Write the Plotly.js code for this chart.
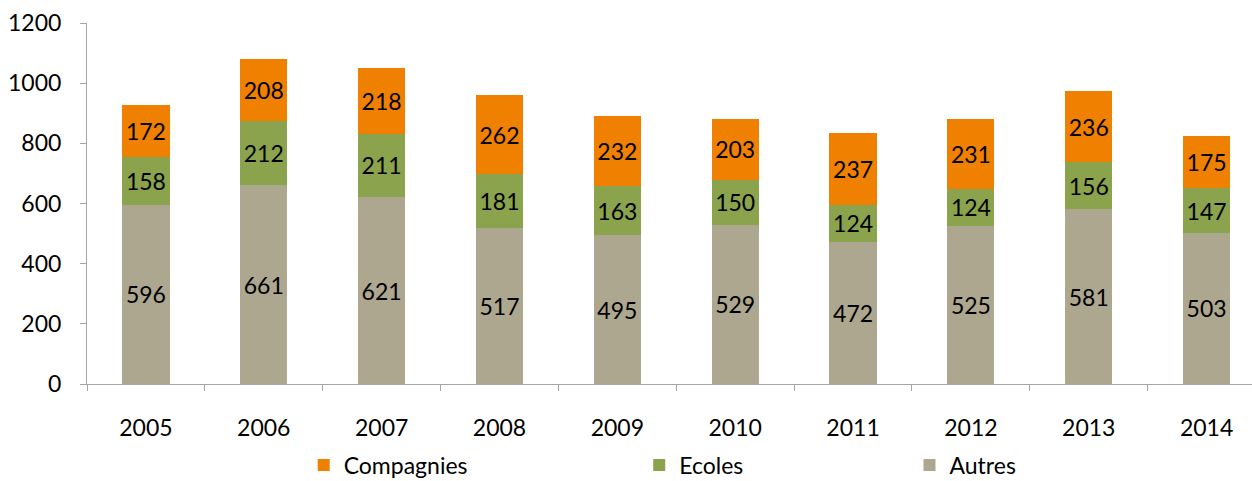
<!DOCTYPE html>
<html><head><meta charset="utf-8">
<script src="https://cdn.plot.ly/plotly-3.0.1.min.js"></script>
<style>html,body{margin:0;padding:0;background:#fff}#c{width:1252px;height:481px}</style>
</head><body><div id="c"></div>
<script>
const years = ['2005','2006','2007','2008','2009','2010','2011','2012','2013','2014'];
const autres = [596,661,621,517,495,529,472,525,581,503];
const ecoles = [158,212,211,181,163,150,124,124,156,147];
const compagnies = [172,208,218,262,232,203,237,231,236,175];
const yTicks = [0,200,400,600,800,1000,1200];

const FONT = 'Lato, "Open Sans", sans-serif';
const FS = 23;
function bar(name, vals, color, legend){
  return {type:'bar', name:name, x:years, y:vals, width:0.4,
    marker:{color:color, line:{width:0}},
    text:vals.map(String), textposition:'inside', insidetextanchor:'middle',
    textfont:{family:FONT, size:FS, color:'#000'}, constraintext:'none',
    hoverinfo:'none', legend:legend};
}
const data = [
  bar('Autres', autres, '#ADA790', 'legend3'),
  bar('Ecoles', ecoles, '#8AA34C', 'legend2'),
  bar('Compagnies', compagnies, '#F08000', 'legend')
];
function leg(x){
  return {orientation:'h', x:x, xanchor:'left', yref:'container', y:0.033, yanchor:'middle',
    font:{family:FONT, size:FS, color:'#000'}, bgcolor:'rgba(0,0,0,0)',
    itemwidth:30, itemsizing:'constant'};
}
const layout = {
  width:1252, height:481, barmode:'stack', showlegend:true,
  margin:{l:87, r:0, t:23, b:97, autoexpand:false},
  paper_bgcolor:'#fff', plot_bgcolor:'#fff',
  font:{family:FONT, size:FS, color:'#000'},
  xaxis:{type:'category', range:[-0.5, 9.385], showline:true, linecolor:'#A6A6A6', linewidth:1,
    ticks:'outside', tickson:'boundaries', ticklen:6, tickcolor:'#A6A6A6',
    showgrid:false, zeroline:false, tickfont:{family:FONT, size:FS, color:'#000'}, ticklabelstandoff:23},
  yaxis:{range:[0,1200], tickvals:yTicks, ticktext:yTicks.map(String), showline:true, linecolor:'#A6A6A6', linewidth:1,
    ticks:'outside', ticklen:6, tickcolor:'#A6A6A6', showgrid:false, zeroline:false,
    tickfont:{family:FONT, size:FS, color:'#000'}, ticklabelstandoff:14},
  legend: leg(0.186),
  legend2: leg(0.474),
  legend3: leg(0.706)
};
Plotly.newPlot('c', data, layout, {displayModeBar:false, staticPlot:true});
</script></body></html>
